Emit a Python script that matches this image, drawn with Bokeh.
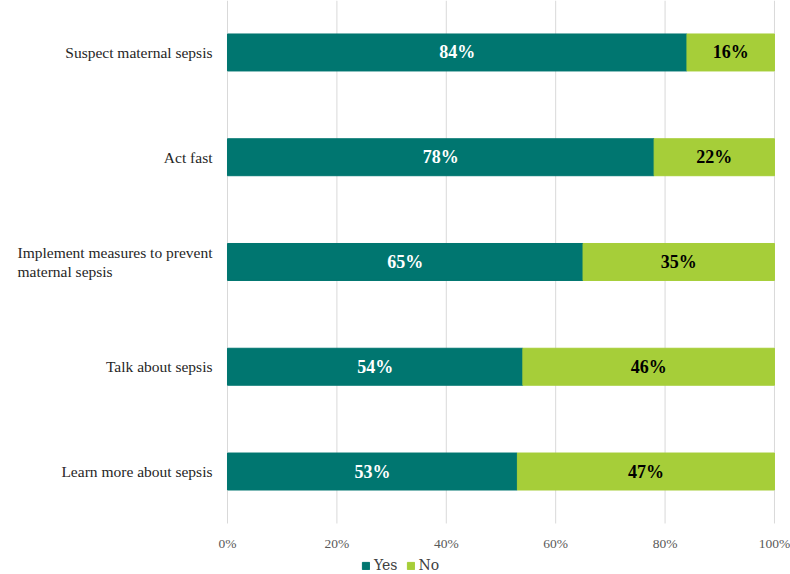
from bokeh.plotting import figure
from bokeh.models import ColumnDataSource, Legend, LegendItem, LabelSet, Range1d
from bokeh.embed import file_html
from bokeh.resources import INLINE

categories = ["Suspect maternal sepsis", "Act fast",
              "Implement measures to prevent\nmaternal sepsis",
              "Talk about sepsis", "Learn more about sepsis"]
yes_vals = [84, 78, 65, 54, 53]
no_vals = [16, 22, 35, 46, 47]
x_ticks = [0, 20, 40, 60, 80, 100]
x_tick_labels = ["0%", "20%", "40%", "60%", "80%", "100%"]

TEAL = "#007670"
LIME = "#A6CE39"
FONT = "DejaVu Serif"

n = len(categories)
ypos = [n - 1 - i for i in range(n)]
src = ColumnDataSource(dict(
    y=ypos, yes=yes_vals, no=no_vals,
    yes_end=yes_vals,
    no_end=[a + b for a, b in zip(yes_vals, no_vals)],
    yes_mid=[v / 2 for v in yes_vals],
    no_mid=[a + b / 2 for a, b in zip(yes_vals, no_vals)],
    yes_lbl=[f"{v}%" for v in yes_vals],
    no_lbl=[f"{v}%" for v in no_vals],
))

y_lo, y_hi = -0.496, 4.496      # extent of the category bands
p = figure(width=790, height=574, output_backend="svg", toolbar_location=None,
           x_range=Range1d(-41.5, 102.93), y_range=Range1d(-0.983, y_hi),
           min_border_left=0, min_border_right=0, min_border_top=0,
           min_border_bottom=0)
p.outline_line_color = None
p.background_fill_color = "white"
p.xgrid.grid_line_color = None
p.ygrid.grid_line_color = None
p.xaxis.visible = False
p.yaxis.visible = False

# vertical gridlines limited to the band area
grid_src = ColumnDataSource(dict(x=x_ticks, y0=[y_lo] * len(x_ticks), y1=[y_hi] * len(x_ticks)))
p.segment(x0="x", y0="y0", x1="x", y1="y1", source=grid_src,
          line_color="#D9D9D9", line_width=1)

h = 0.353
r_yes = p.hbar(y="y", left=0, right="yes_end", height=h, color=TEAL, source=src)
r_no = p.hbar(y="y", left="yes_end", right="no_end", height=h, color=LIME, source=src)

# data labels
p.add_layout(LabelSet(x="yes_mid", y="y", text="yes_lbl", source=src,
                      text_align="center", text_baseline="middle",
                      text_color="white", text_font=FONT, text_font_style="bold",
                      text_font_size="18px"))
p.add_layout(LabelSet(x="no_mid", y="y", text="no_lbl", source=src,
                      text_align="center", text_baseline="middle",
                      text_color="black", text_font=FONT, text_font_style="bold",
                      text_font_size="18px"))

# x tick labels
tick_src = ColumnDataSource(dict(x=x_ticks, y=[-0.687] * len(x_ticks), t=x_tick_labels))
p.add_layout(LabelSet(x="x", y="y", text="t", source=tick_src,
                      text_align="center", text_baseline="middle",
                      text_color="#595959", text_font=FONT,
                      text_font_size="13.5px"))

# category labels
cat_src = ColumnDataSource(dict(x=[0] * n, y=ypos, t=categories))
p.add_layout(LabelSet(x="x", y="y", text="t", source=cat_src, x_offset=-15,
                      text_align="right", text_baseline="middle",
                      text_color="#262626", text_font=FONT,
                      text_font_size="15.5px", text_line_height=1.15))

legend = Legend(items=[LegendItem(label="Yes", renderers=[r_yes]),
                       LegendItem(label="No", renderers=[r_no])],
                orientation="horizontal", location=(361, 1),
                glyph_width=9, glyph_height=9, spacing=8, padding=0,
                margin=0, label_standoff=4, label_height=14,
                label_text_font=FONT, label_text_font_size="14px",
                label_text_color="#404040", border_line_color=None,
                background_fill_alpha=0)
p.add_layout(legend, "center")

open("out.html", "w").write(file_html(p, INLINE))
